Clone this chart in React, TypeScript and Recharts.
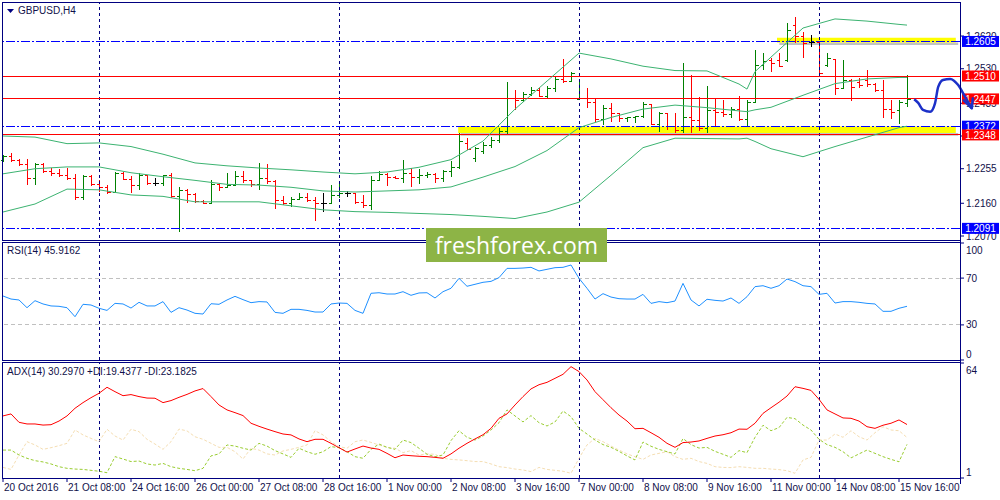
import React from "react";
import { ComposedChart, Bar, Line, XAxis, YAxis, ReferenceLine, ReferenceArea } from "recharts";

const FONT = "'Liberation Sans', Arial, sans-serif";
const NAVY = "#000080";
const INK = "#10104a";
const UP = "#008000";
const DOWN = "#ff0000";
const BAND = "#3cb371";
const PEN = "#1c30c8";

// GBPUSD H4, 20 Oct 2016 00:00 .. 15 Nov 2016 20:00 (114 bars)
const OPEN = [
  1.2279, 1.2290, 1.2279, 1.2268, 1.2230, 1.2268, 1.2249, 1.2243, 1.2238, 1.2230,
  1.2177, 1.2235, 1.2213, 1.2205, 1.2191, 1.2243, 1.2227, 1.2210, 1.2238, 1.2216,
  1.2216, 1.2238, 1.2180, 1.2197, 1.2186, 1.2166, 1.2161, 1.2213, 1.2205, 1.2210,
  1.2235, 1.2224, 1.2213, 1.2230, 1.2221, 1.2169, 1.2161, 1.2172, 1.2177, 1.2169,
  1.2161, 1.2161, 1.2183, 1.2188, 1.2188, 1.2163, 1.2155, 1.2224, 1.2241, 1.2232,
  1.2230, 1.2243, 1.2232, 1.2238, 1.2241, 1.2230, 1.2249, 1.2260, 1.2326, 1.2285,
  1.2304, 1.2320, 1.2334, 1.2359, 1.2449, 1.2444, 1.2460, 1.2471, 1.2455, 1.2477,
  1.2502, 1.2496, 1.2447, 1.2449, 1.2438, 1.2392, 1.2422, 1.2408, 1.2394, 1.2397,
  1.2400, 1.2433, 1.2378, 1.2408, 1.2373, 1.2361, 1.2397, 1.2389, 1.2367, 1.2417,
  1.2411, 1.2405, 1.2419, 1.2392, 1.2438, 1.2540, 1.2554, 1.2554, 1.2554, 1.2650,
  1.2620, 1.2604, 1.2604, 1.2540, 1.2557, 1.2477, 1.2499, 1.2494, 1.2499, 1.2488,
  1.2471, 1.2419, 1.2417, 1.2436,
];
const HIGH = [
  1.2293, 1.2298, 1.2282, 1.2282, 1.2271, 1.2271, 1.2257, 1.2254, 1.2257, 1.2241,
  1.2238, 1.2238, 1.2224, 1.2210, 1.2246, 1.2246, 1.2235, 1.2243, 1.2238, 1.2230,
  1.2238, 1.2243, 1.2205, 1.2199, 1.2188, 1.2169, 1.2224, 1.2216, 1.2243, 1.2249,
  1.2249, 1.2224, 1.2271, 1.2268, 1.2224, 1.2180, 1.2177, 1.2188, 1.2188, 1.2177,
  1.2188, 1.2210, 1.2216, 1.2194, 1.2188, 1.2183, 1.2235, 1.2249, 1.2243, 1.2235,
  1.2279, 1.2257, 1.2254, 1.2246, 1.2243, 1.2252, 1.2276, 1.2353, 1.2339, 1.2315,
  1.2329, 1.2342, 1.2367, 1.2494, 1.2471, 1.2466, 1.2480, 1.2477, 1.2482, 1.2507,
  1.2557, 1.2521, 1.2499, 1.2477, 1.2447, 1.2430, 1.2436, 1.2408, 1.2397, 1.2400,
  1.2438, 1.2433, 1.2411, 1.2408, 1.2408, 1.2546, 1.2513, 1.2452, 1.2483, 1.2447,
  1.2444, 1.2425, 1.2455, 1.2444, 1.2582, 1.2573, 1.2559, 1.2573, 1.2656, 1.2672,
  1.2631, 1.2623, 1.2604, 1.2573, 1.2557, 1.2554, 1.2502, 1.2504, 1.2526, 1.2491,
  1.2499, 1.2444, 1.2444, 1.2513,
];
const LOW = [
  1.2274, 1.2274, 1.2263, 1.2210, 1.2210, 1.2243, 1.2235, 1.2232, 1.2224, 1.2169,
  1.2169, 1.2207, 1.2191, 1.2185, 1.2188, 1.2224, 1.2188, 1.2197, 1.2210, 1.2207,
  1.2207, 1.2174, 1.2081, 1.2161, 1.2161, 1.2158, 1.2158, 1.2194, 1.2205, 1.2210,
  1.2216, 1.2205, 1.2197, 1.2213, 1.2144, 1.2155, 1.2150, 1.2172, 1.2164, 1.2111,
  1.2136, 1.2161, 1.2174, 1.2177, 1.2158, 1.2147, 1.2142, 1.2224, 1.2207, 1.2227,
  1.2216, 1.2205, 1.2213, 1.2230, 1.2216, 1.2219, 1.2232, 1.2254, 1.2306, 1.2274,
  1.2295, 1.2312, 1.2326, 1.2348, 1.2417, 1.2438, 1.2455, 1.2452, 1.2447, 1.2466,
  1.2491, 1.2494, 1.2447, 1.2422, 1.2384, 1.2375, 1.2384, 1.2384, 1.2384, 1.2381,
  1.2394, 1.2375, 1.2356, 1.2361, 1.2353, 1.2353, 1.2353, 1.2359, 1.2353, 1.2373,
  1.2397, 1.2394, 1.2386, 1.2373, 1.2436, 1.2527, 1.2521, 1.2535, 1.2549, 1.2601,
  1.2560, 1.2590, 1.2507, 1.2535, 1.2458, 1.2474, 1.2441, 1.2477, 1.2480, 1.2466,
  1.2394, 1.2392, 1.2378, 1.2425,
];
const CLOSE = [
  1.2290, 1.2279, 1.2268, 1.2230, 1.2268, 1.2249, 1.2243, 1.2238, 1.2230, 1.2177,
  1.2235, 1.2213, 1.2205, 1.2191, 1.2243, 1.2227, 1.2210, 1.2238, 1.2216, 1.2216,
  1.2238, 1.2180, 1.2197, 1.2186, 1.2166, 1.2161, 1.2213, 1.2205, 1.2210, 1.2235,
  1.2224, 1.2213, 1.2230, 1.2221, 1.2169, 1.2161, 1.2172, 1.2177, 1.2169, 1.2161,
  1.2161, 1.2183, 1.2188, 1.2188, 1.2163, 1.2155, 1.2224, 1.2241, 1.2232, 1.2230,
  1.2243, 1.2232, 1.2238, 1.2241, 1.2230, 1.2249, 1.2260, 1.2331, 1.2309, 1.2312,
  1.2320, 1.2334, 1.2359, 1.2449, 1.2444, 1.2460, 1.2471, 1.2455, 1.2477, 1.2502,
  1.2496, 1.2518, 1.2449, 1.2438, 1.2392, 1.2422, 1.2408, 1.2394, 1.2397, 1.2400,
  1.2433, 1.2378, 1.2408, 1.2373, 1.2361, 1.2397, 1.2389, 1.2367, 1.2417, 1.2411,
  1.2405, 1.2419, 1.2392, 1.2438, 1.2540, 1.2551, 1.2546, 1.2538, 1.2637, 1.2620,
  1.2601, 1.2604, 1.2518, 1.2559, 1.2477, 1.2499, 1.2480, 1.2485, 1.2488, 1.2471,
  1.2419, 1.2411, 1.2438, 1.2447,
];

// Bollinger bands, read at these bars
const BB_BARS = [0, 4, 8, 12, 16, 20, 24, 28, 32, 36, 40, 44, 48, 52, 56, 60, 64, 68, 72, 76, 80, 84, 88, 92, 93, 94, 96, 100, 104, 108, 112, 113];
const BB_UPPER = [
  1.2345, 1.2342, 1.2324, 1.2326, 1.2316, 1.2295, 1.2271, 1.2263, 1.2257, 1.2252, 1.2246,
  1.2241, 1.2246, 1.2259, 1.2280, 1.2331, 1.2419, 1.2496, 1.2573, 1.2557, 1.2537, 1.2525,
  1.2524, 1.2488, 1.2474, 1.2522, 1.2562, 1.2642, 1.2667, 1.2661, 1.2652, 1.2650,
];
const BB_MIDDLE = [
  1.2241, 1.2255, 1.2260, 1.2260, 1.2244, 1.2233, 1.2223, 1.2212, 1.2210, 1.2204, 1.2194,
  1.2191, 1.2194, 1.2197, 1.2205, 1.2232, 1.2261, 1.2305, 1.2368, 1.2396, 1.2419, 1.2430,
  1.2423, 1.2414, 1.2412, 1.2417, 1.2424, 1.2457, 1.2489, 1.2502, 1.2506, 1.2506,
];
const BB_LOWER = [
  1.2136, 1.2158, 1.2199, 1.2197, 1.2183, 1.2179, 1.2164, 1.2164, 1.2164, 1.2153, 1.2142,
  1.2137, 1.2135, 1.2132, 1.2129, 1.2124, 1.2118, 1.2136, 1.2163, 1.2237, 1.2313, 1.2339,
  1.2338, 1.2337, 1.2339, 1.2330, 1.2310, 1.2288, 1.2316, 1.2342, 1.2368, 1.2372,
];

const RSI = [
  54.7, 52.1, 51.3, 44.7, 50.7, 47.9, 46.2, 45.9, 44.7, 37.0,
  47.6, 47.0, 44.2, 42.4, 48.4, 47.9, 44.4, 49.3, 46.2, 46.2,
  49.9, 40.7, 44.7, 42.7, 39.9, 39.3, 48.1, 47.6, 51.3, 54.4,
  51.6, 49.0, 49.9, 49.6, 40.7, 39.9, 43.3, 43.3, 42.4, 41.0,
  41.0, 47.9, 48.7, 48.4, 42.4, 39.9, 57.0, 57.5, 56.4, 56.4,
  58.4, 55.3, 57.3, 57.5, 53.0, 58.4, 61.3, 69.8, 63.0, 64.7,
  66.4, 67.2, 70.4, 78.3, 78.3, 78.6, 79.2, 76.1, 77.5, 78.9,
  79.2, 81.2, 69.8, 61.3, 52.1, 56.7, 53.8, 52.4, 52.1, 52.1,
  56.1, 48.4, 49.9, 49.0, 50.4, 65.5, 51.3, 46.2, 51.9, 51.0,
  50.4, 53.0, 48.4, 54.1, 62.7, 63.5, 61.3, 63.5, 69.2, 67.0,
  63.5, 62.7, 56.1, 57.0, 48.7, 49.9, 49.9, 49.3, 48.4, 47.9,
  41.6, 41.6, 44.2, 45.9,
];
const ADX = [
  35.0, 36.1, 31.5, 30.6, 30.6, 30.0, 30.2, 32.2, 35.0, 39.2,
  42.3, 45.0, 47.4, 50.7, 48.3, 46.1, 46.7, 45.6, 44.8, 44.7,
  42.3, 43.4, 45.2, 46.8, 48.7, 50.0, 45.6, 41.0, 38.3, 36.8,
  35.2, 31.0, 29.3, 27.8, 26.4, 25.1, 24.6, 22.4, 20.9, 22.2,
  22.2, 20.0, 17.6, 15.2, 16.9, 18.5, 17.4, 16.7, 14.5, 12.1,
  13.6, 13.2, 12.9, 12.7, 12.3, 11.8, 14.2, 17.3, 20.0, 22.4,
  24.7, 28.2, 33.7, 36.1, 41.0, 45.6, 49.8, 52.1, 53.4, 55.6,
  57.8, 62.0, 59.3, 54.7, 48.3, 43.9, 39.5, 35.5, 32.2, 28.0,
  28.2, 25.8, 23.3, 20.0, 17.8, 20.4, 20.7, 21.3, 22.7, 24.0,
  24.7, 25.8, 27.8, 27.7, 31.0, 36.4, 39.5, 42.5, 45.9, 51.0,
  50.1, 49.0, 44.1, 38.3, 36.1, 33.9, 33.7, 32.2, 29.1, 28.2,
  29.9, 31.0, 32.8, 30.3,
];
const PLUS_DI = [
  16.3, 16.3, 13.6, 11.8, 10.5, 9.8, 8.7, 7.2, 6.3, 5.9,
  5.7, 5.2, 4.7, 3.9, 12.7, 11.4, 10.0, 10.3, 8.7, 8.1,
  9.0, 7.2, 6.3, 5.7, 5.0, 6.3, 13.1, 14.2, 19.1, 18.5,
  17.3, 16.3, 20.0, 18.5, 16.0, 14.2, 12.3, 17.3, 15.4, 14.0,
  15.4, 18.2, 17.6, 15.4, 12.7, 11.8, 16.7, 19.6, 17.8, 16.7,
  21.8, 20.4, 17.3, 14.0, 12.7, 13.6, 21.5, 26.9, 23.3, 21.8,
  24.0, 27.3, 31.3, 38.3, 35.0, 31.7, 35.2, 31.3, 29.5, 31.7,
  37.7, 34.6, 28.2, 25.1, 21.8, 19.3, 17.8, 15.6, 13.1, 10.9,
  20.7, 18.4, 16.7, 15.4, 14.2, 22.6, 19.3, 17.4, 17.8, 15.6,
  14.0, 12.3, 16.0, 14.9, 23.3, 29.9, 26.9, 28.6, 34.2, 33.5,
  30.0, 27.3, 22.2, 19.3, 17.8, 15.4, 12.0, 14.2, 16.3, 14.5,
  12.7, 11.2, 9.9, 19.4,
];
const MINUS_DI = [
  6.8, 5.7, 13.6, 20.9, 19.1, 16.7, 17.6, 18.7, 20.0, 27.3,
  24.6, 22.7, 20.9, 27.7, 24.0, 21.8, 27.7, 26.4, 22.2, 19.6,
  16.7, 20.9, 27.8, 26.8, 23.6, 22.2, 20.0, 17.8, 17.8, 15.4,
  11.4, 17.3, 16.3, 14.2, 13.6, 15.8, 16.7, 17.8, 19.1, 26.9,
  24.6, 20.9, 18.2, 17.3, 20.9, 21.8, 20.5, 19.1, 17.8, 17.3,
  14.9, 16.0, 13.6, 14.2, 14.0, 11.8, 11.2, 10.9, 10.5, 10.0,
  10.0, 8.7, 7.2, 6.7, 5.9, 5.4, 4.5, 6.8, 5.7, 5.2,
  4.7, 3.6, 11.8, 19.1, 22.7, 20.9, 18.5, 16.3, 14.2, 12.7,
  11.2, 13.6, 14.5, 15.4, 12.7, 11.2, 11.8, 10.0, 9.0, 7.2,
  6.8, 6.7, 7.2, 6.8, 6.3, 6.3, 5.9, 5.6, 5.0, 3.6,
  10.9, 12.3, 21.8, 21.8, 25.1, 23.3, 26.9, 23.6, 21.8, 25.8,
  29.1, 27.3, 26.9, 23.2,
];

const WEEK_STARTS = [12, 42, 72, 102];
const TICK_BARS = [0, 8, 16, 24, 32, 40, 48, 56, 64, 72, 80, 88, 96, 104, 112];
const TICK_LABELS = [
  "20 Oct 2016", "21 Oct 08:00", "24 Oct 16:00", "26 Oct 00:00", "27 Oct 08:00",
  "28 Oct 16:00", "1 Nov 00:00", "2 Nov 08:00", "3 Nov 16:00", "7 Nov 00:00",
  "8 Nov 08:00", "9 Nov 16:00", "11 Nov 00:00", "14 Nov 08:00", "15 Nov 16:00",
];
const PRICE_TICKS = [1.207, 1.216, 1.2255, 1.2345, 1.2435, 1.253, 1.262];

const LEVELS = [
  { price: 1.2605, stroke: "#0000ff", dash: "9 2 2 2", tag: "#0000ff" },
  { price: 1.251, stroke: "#ff0000", dash: undefined, tag: "#ff0000" },
  { price: 1.2447, stroke: "#ff0000", dash: undefined, tag: "#ff0000" },
  { price: 1.2372, stroke: "#0000ff", dash: "9 2 2 2", tag: "#0000ff" },
  { price: 1.2348, stroke: "#ff0000", dash: undefined, tag: "#ff0000" },
  { price: 1.2091, stroke: "#0000ff", dash: "9 2 2 2", tag: "#0000ff" },
];
// yellow marker zones (bar units / price)
const ZONES = [
  { from: 96.75, to: 119.1, top: 1.2615, bottom: 1.2602 },
  { from: 56.9, to: 119.1, top: 1.2371, bottom: 1.2353 },
];
// hand drawn forecast stroke
const FORECAST_BAR = [113.9, 114.4, 115.0, 115.9, 116.5, 116.9, 117.5, 118.4, 119.4, 120.25, 121.1];
const FORECAST_PRICE = [1.2446, 1.2436, 1.2417, 1.2412, 1.2435, 1.248, 1.2499, 1.2502, 1.2485, 1.2453, 1.2421];

const X_DOMAIN: [number, number] = [-0.125, 119.625];
const X_WIDE: [number, number] = [-0.125, 124.625];
const PRICE_DOMAIN: [number, number] = [1.20645, 1.27108];

const rows: any[] = OPEN.map((o, i) => ({
  i, o, h: HIGH[i], l: LOW[i], c: CLOSE[i],
  rsi: RSI[i], adx: ADX[i], pdi: PLUS_DI[i], mdi: MINUS_DI[i],
}));
BB_BARS.forEach((b, k) => {
  rows[b].bbU = BB_UPPER[k];
  rows[b].bbM = BB_MIDDLE[k];
  rows[b].bbL = BB_LOWER[k];
});
const forecast = FORECAST_BAR.map((x, k) => ({ x, p: FORECAST_PRICE[k] }));

const OhlcShape = (props: any) => {
  const { x, y, width, height, payload } = props;
  if (x == null || !payload) return <g />;
  const { o, h, l, c } = payload;
  const cx = Math.floor(x + width / 2) + 0.5;
  const py = (v: number) => Math.round(y + ((h - v) / (h - l || 1)) * height) + 0.5;
  const color = c > o ? UP : c < o ? DOWN : "#000";
  return (
    <g stroke={color} strokeWidth={1} shapeRendering="crispEdges">
      <line x1={cx} x2={cx} y1={y} y2={y + Math.max(height, 1)} />
      <line x1={cx - 3} x2={cx} y1={py(o)} y2={py(o)} />
      <line x1={cx} x2={cx + 3} y1={py(c)} y2={py(c)} />
    </g>
  );
};

const PriceTag = (props: any) => {
  const { viewBox, text, bg } = props;
  if (!viewBox) return null;
  const x = viewBox.x + 2;
  const y = viewBox.y;
  return (
    <g>
      <rect x={x} y={y - 5.5} width={37} height={11} fill={bg} />
      <text x={x + 18.5} y={y} dy="0.36em" textAnchor="middle" fill="#fff" fontSize={10} fontFamily={FONT}>
        {text}
      </text>
    </g>
  );
};

const EdgeTick = (props: any) => {
  const { x, y, payload, top, bottom } = props;
  const shift = payload.value === top ? 7 : payload.value === bottom ? -6 : 0;
  return (
    <text x={x} y={y + shift} dy="0.35em" fill={INK} fontSize={10} fontFamily={FONT}>
      {payload.value}
    </text>
  );
};

const TimeTick = (props: any) => {
  const { x, y, payload } = props;
  const k = TICK_BARS.indexOf(payload.value);
  return (
    <text x={x + 1} y={y} dy="0.71em" fill={INK} fontSize={10} fontFamily={FONT}>
      {TICK_LABELS[k]}
    </text>
  );
};

const ArrowDot = (props: any) => {
  const { cx, cy, index } = props;
  if (index !== FORECAST_BAR.length - 1) return <g key={index} />;
  return (
    <path key={index} d={`M${cx - 8},${cy - 8} L${cx},${cy} L${cx + 1},${cy - 10}`}
      fill="none" stroke={PEN} strokeWidth={2.5} strokeLinecap="round" strokeLinejoin="round" />
  );
};

const axisProps = {
  orientation: "right" as const,
  width: 40,
  axisLine: false,
  tickLine: { stroke: NAVY },
  tickSize: 4,
  tickMargin: 2,
  interval: 0 as const,
};

const weekLines = WEEK_STARTS.map((w) => (
  <ReferenceLine key={"w" + w} x={w} stroke={NAVY} strokeDasharray="3 3" shapeRendering="crispEdges" />
));

const box = (top: number, height: number): React.CSSProperties => ({
  position: "absolute", left: 2, top, width: 959, height, boxSizing: "border-box",
  border: `1px solid ${NAVY}`, pointerEvents: "none",
});

const caption = (top: number): React.CSSProperties => ({
  position: "absolute", left: 7, top, fontSize: 10, fontFamily: FONT, color: INK, lineHeight: "12px",
});

export default function App() {
  return (
    <div style={{ position: "absolute", left: 0, top: 0, width: 1000, height: 500, background: "#fff", overflow: "hidden" }}>
      {/* price panel */}
      <div style={{ position: "absolute", left: 0, top: 0 }}>
        <ComposedChart width={1000} height={240} data={rows} margin={{ top: 3, right: 0, bottom: 2, left: 2 }}>
          <XAxis type="number" dataKey="i" domain={X_DOMAIN} hide />
          <YAxis {...axisProps} domain={PRICE_DOMAIN} allowDataOverflow ticks={PRICE_TICKS}
            tickFormatter={(v: number) => v.toFixed(4)} tick={{ fill: INK, fontSize: 10, fontFamily: FONT }} />
          {ZONES.map((z, k) => (
            <ReferenceArea key={"s" + k} x1={z.from + 0.3} x2={z.to + 0.3} y1={z.bottom - 0.0007} y2={z.bottom}
              fill="#7a7a7a" fillOpacity={0.45} stroke="none" />
          ))}
          {ZONES.map((z, k) => (
            <ReferenceArea key={"z" + k} x1={z.from} x2={z.to} y1={z.bottom} y2={z.top}
              fill="#ffff00" fillOpacity={1} stroke="none" />
          ))}
          {weekLines}
          {LEVELS.map((lv) => (
            <ReferenceLine key={lv.price} y={lv.price} stroke={lv.stroke} strokeDasharray={lv.dash}
              shapeRendering="crispEdges" />
          ))}
          <Line dataKey="bbU" stroke={BAND} dot={false} connectNulls isAnimationActive={false} />
          <Line dataKey="bbM" stroke={BAND} dot={false} connectNulls isAnimationActive={false} />
          <Line dataKey="bbL" stroke={BAND} dot={false} connectNulls isAnimationActive={false} />
          <Bar dataKey={(d: any) => [d.l, d.h]} barSize={6} shape={<OhlcShape />} isAnimationActive={false} />
        </ComposedChart>
      </div>
      {/* hand drawn forecast + price tags on the scale */}
      <div style={{ position: "absolute", left: 0, top: 0 }}>
        <ComposedChart width={1000} height={240} data={forecast} margin={{ top: 3, right: 0, bottom: 2, left: 2 }}>
          <XAxis type="number" dataKey="x" domain={X_WIDE} hide />
          <YAxis hide domain={PRICE_DOMAIN} />
          {LEVELS.map((lv) => (
            <ReferenceLine key={"t" + lv.price} stroke="none"
              segment={[{ x: X_DOMAIN[1], y: lv.price }, { x: X_WIDE[1], y: lv.price }]}
              label={<PriceTag text={lv.price.toFixed(4)} bg={lv.tag} />} />
          ))}
          <Line dataKey="p" type="monotone" stroke={PEN} strokeWidth={2.5} dot={<ArrowDot />} isAnimationActive={false} />
        </ComposedChart>
      </div>
      {/* RSI panel */}
      <div style={{ position: "absolute", left: 0, top: 242 }}>
        <ComposedChart width={1000} height={120} data={rows} margin={{ top: 1, right: 0, bottom: 2, left: 2 }}>
          <XAxis type="number" dataKey="i" domain={X_DOMAIN} hide />
          <YAxis {...axisProps} domain={[0, 100]} ticks={[0, 30, 70, 100]} tick={<EdgeTick top={100} bottom={0} />} />
          <ReferenceLine y={70} stroke="#c0c0c0" strokeDasharray="4 3" shapeRendering="crispEdges" />
          <ReferenceLine y={30} stroke="#c0c0c0" strokeDasharray="4 3" shapeRendering="crispEdges" />
          {weekLines}
          <Line dataKey="rsi" stroke="#1e90ff" dot={false} isAnimationActive={false} />
        </ComposedChart>
      </div>
      {/* ADX panel */}
      <div style={{ position: "absolute", left: 0, top: 362 }}>
        <ComposedChart width={1000} height={138} data={rows} margin={{ top: 1, right: 0, bottom: 0, left: 2 }}>
          <XAxis type="number" dataKey="i" domain={X_DOMAIN} ticks={TICK_BARS} interval={0} height={22}
            axisLine={false} tickLine={{ stroke: NAVY }} tickSize={4} tickMargin={2} tick={<TimeTick />} />
          <YAxis {...axisProps} domain={[1, 64]} ticks={[1, 64]} tick={<EdgeTick top={64} bottom={1} />} />
          {weekLines}
          <Line dataKey="mdi" stroke="#f5deb3" strokeDasharray="3 2" dot={false} isAnimationActive={false} />
          <Line dataKey="pdi" stroke="#9acd32" strokeDasharray="3 2" dot={false} isAnimationActive={false} />
          <Line dataKey="adx" stroke="#ff0000" dot={false} isAnimationActive={false} />
        </ComposedChart>
      </div>

      <div style={box(2, 239)} />
      <div style={box(242, 119)} />
      <div style={box(362, 117)} />
      <div style={{ position: "absolute", left: 960, top: 2, width: 1, height: 482, background: NAVY }} />

      <svg style={{ position: "absolute", left: 7, top: 9 }} width={8} height={5}>
        <polygon points="0,0 7,0 3.5,4" fill={NAVY} />
      </svg>
      <div style={{ ...caption(5), left: 18 }}>GBPUSD,H4</div>
      <div style={caption(245)}>RSI(14) 45.9162</div>
      <div style={caption(366)}>ADX(14) 30.2970 +DI:19.4377 -DI:23.1825</div>

      <div style={{
        position: "absolute", left: 426, top: 228, width: 181, height: 34, background: "#8db446",
        color: "#fff", fontFamily: "'Open Sans', sans-serif", fontSize: 23, lineHeight: "34px", textAlign: "center",
      }}>
        freshforex.com
      </div>
    </div>
  );
}
